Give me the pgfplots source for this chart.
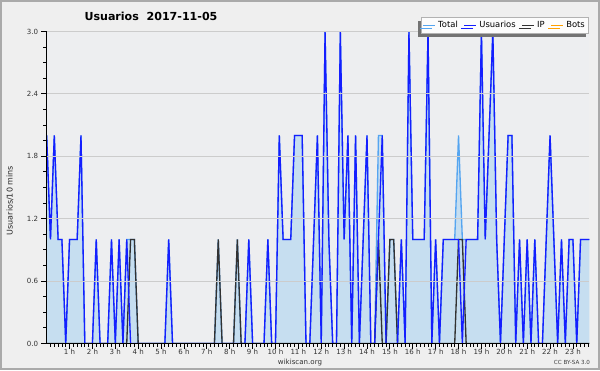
\documentclass[border=0pt]{standalone}
\usepackage{fontspec}
\setmainfont{DejaVu Sans}
\usepackage{pgfplots}
\usepackage{pgfplotstable}
\pgfplotsset{compat=1.18}
\usetikzlibrary{shadows}
\definecolor{bgc}{RGB}{239,239,239}
\definecolor{plotbg}{RGB}{237,238,240}
\definecolor{borderc}{RGB}{170,170,170}
\definecolor{fillc}{RGB}{198,222,240}
\definecolor{totalc}{RGB}{85,165,240}
\definecolor{usrc}{RGB}{20,30,255}
\definecolor{ipc}{RGB}{50,50,50}
\definecolor{botc}{RGB}{255,160,0}
\definecolor{gridc}{RGB}{204,204,204}
\pgfplotstableread{
i U I T
0 2 0 2
1 1 0 1
2 2 0 2
3 1 0 1
4 1 0 1
5 0 0 0
6 1 0 1
7 1 0 1
8 1 0 1
9 2 0 2
10 0 0 0
11 0 0 0
12 0 0 0
13 1 0 1
14 0 0 0
15 0 0 0
16 0 0 0
17 1 0 1
18 0 0 0
19 1 0 1
20 0 0 0
21 1 0 1
22 0 1 1
23 0 1 1
24 0 0 0
25 0 0 0
26 0 0 0
27 0 0 0
28 0 0 0
29 0 0 0
30 0 0 0
31 0 0 0
32 1 0 1
33 0 0 0
34 0 0 0
35 0 0 0
36 0 0 0
37 0 0 0
38 0 0 0
39 0 0 0
40 0 0 0
41 0 0 0
42 0 0 0
43 0 0 0
44 0 0 0
45 0 1 1
46 0 0 0
47 0 0 0
48 0 0 0
49 0 0 0
50 0 1 1
51 0 0 0
52 0 0 0
53 1 0 1
54 0 0 0
55 0 0 0
56 0 0 0
57 0 0 0
58 1 0 1
59 0 0 0
60 0 0 0
61 2 0 2
62 1 0 1
63 1 0 1
64 1 0 1
65 2 0 2
66 2 0 2
67 2 0 2
68 0 0 0
69 0 0 0
70 1 0 1
71 2 0 2
72 0 0 0
73 3 0 3
74 1 0 1
75 0 0 0
76 0 0 0
77 3 0 3
78 1 0 1
79 2 0 2
80 0 0 0
81 2 0 2
82 0 0 0
83 1 0 1
84 2 0 2
85 0 0 0
86 0 0 0
87 1 1 2
88 2 0 2
89 0 0 0
90 0 1 1
91 0 1 1
92 0 0 0
93 1 0 1
94 0 0 0
95 3 0 3
96 1 0 1
97 1 0 1
98 1 0 1
99 1 0 1
100 3 0 3
101 0 0 0
102 1 0 1
103 0 0 0
104 1 0 1
105 1 0 1
106 1 0 1
107 1 0 1
108 1 1 2
109 0 1 1
110 1 0 1
111 1 0 1
112 1 0 1
113 1 0 1
114 3 0 3
115 1 0 1
116 2 0 2
117 3 0 3
118 1 0 1
119 0 0 0
120 1 0 1
121 2 0 2
122 2 0 2
123 0 0 0
124 1 0 1
125 0 0 0
126 1 0 1
127 0 0 0
128 1 0 1
129 0 0 0
130 0 0 0
131 1 0 1
132 2 0 2
133 1 0 1
134 0 0 0
135 1 0 1
136 0 0 0
137 1 0 1
138 1 0 1
139 0 0 0
140 1 0 1
141 1 0 1
142 1 0 1
143 1 0 1
}\datatable
\begin{document}
\begin{tikzpicture}[x=1pt,y=1pt]
\fill[bgc] (0,0) rectangle (450,277.5);
\draw[borderc, line width=1.5pt] (0.75,0.75) rectangle (449.25,276.75);
\begin{axis}[
  at={(35.0pt,19.9pt)}, anchor=south west,
  scale only axis, width=407pt, height=234pt,
  xmin=0, xmax=142.3, ymin=0, ymax=3,
  axis lines=left,
  axis line style={-, black, line width=0.8pt},
  axis background/.style={fill=plotbg},
  axis on top,
  clip=true,
  xtick={6,12,...,138},
  xticklabels={1 h,2 h,3 h,4 h,5 h,6 h,7 h,8 h,9 h,10 h,11 h,12 h,13 h,14 h,15 h,16 h,17 h,18 h,19 h,20 h,21 h,22 h,23 h},
  minor xtick={1,2,...,142},
  ytick={0,0.6,1.2,1.8,2.4,3},
  yticklabels={0.0,0.6,1.2,1.8,2.4,3.0},
  minor y tick num=3,
  tick align=outside,
  major tick length=4pt,
  minor tick length=2.5pt,
  tick style={black, line width=0.6pt},
  ymajorgrids,
  major grid style={gridc, line width=0.75pt},
  tick label style={font=\fontsize{5.3}{6}\selectfont, text=black!80},
  xticklabel style={yshift=3.4pt},
  yticklabel style={xshift=1.2pt},
  legend style={at={(1,1.0465)}, anchor=north east, draw=gray!60, fill=white!98!gray,
    line width=0.75pt, font=\fontsize{6.3}{7}\selectfont, legend columns=-1,
    inner sep=1pt,
    /tikz/every even column/.append style={column sep=2.4pt},
    drop shadow={shadow xshift=-2.3pt, shadow yshift=-2.3pt, fill=gray!90!black, opacity=1}},
  legend image code/.code={\draw[#1, line width=0.75pt] (0pt,0pt) -- (9pt,0pt);},
]
\addplot[draw=none, fill=fillc, forget plot] table[x=i, y=T] {\datatable} \closedcycle;
\addplot[totalc, line width=1pt, forget plot] table[x=i, y=T] {\datatable};
\addplot[ipc, line width=1pt, forget plot] table[x=i, y=I] {\datatable};
\addplot[usrc, line width=1pt, forget plot] table[x=i, y=U] {\datatable};
\addlegendimage{totalc}\addlegendentry{Total}
\addlegendimage{usrc}\addlegendentry{Usuarios}
\addlegendimage{ipc}\addlegendentry{IP}
\addlegendimage{botc}\addlegendentry{Bots}
\end{axis}
\node[font=\bfseries\fontsize{8.3}{10}\selectfont] at (113.25,265) {Usuarios\ \ 2017-11-05};
\node[rotate=90, font=\fontsize{6}{7}\selectfont, text=black!85] at (7.5,127) {Usuarios/10 mins};
\node[font=\fontsize{5.3}{6}\selectfont, text=black!80] at (225,5.6) {wikiscan.org};
\node[font=\fontsize{4.2}{5}\selectfont, text=black!75] at (429,5.6) {CC BY-SA 3.0};
\end{tikzpicture}
\end{document}
